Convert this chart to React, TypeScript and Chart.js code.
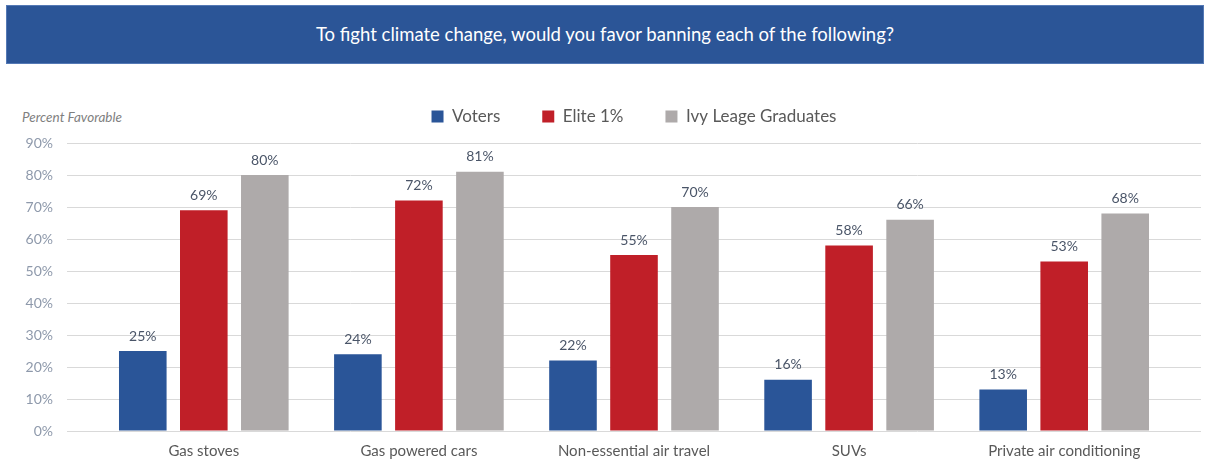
import React, { useEffect, useRef } from 'react';
import { Chart, registerables } from 'chart.js';

Chart.register(...registerables);

const title = 'To fight climate change, would you favor banning each of the following?';
const axisNote = 'Percent Favorable';
const categories = ['Gas stoves', 'Gas powered cars', 'Non-essential air travel', 'SUVs', 'Private air conditioning'];
const seriesNames = ['Voters', 'Elite 1%', 'Ivy Leage Graduates'];
const voters = [25, 24, 22, 16, 13];
const elite = [69, 72, 55, 58, 53];
const ivy = [80, 81, 70, 66, 68];
const yMin = 0;
const yMax = 90;
const yStep = 10;

const colors = ['#2A5598', '#C01F28', '#AEAAAA'];
const FONT = 'Lato, "Open Sans", sans-serif';

const legendSpacer = {
  id: 'legendSpacer',
  beforeInit(chart: any) {
    const legend = chart.legend;
    if (!legend) return;
    const orig = legend.fit;
    legend.fit = function fit() {
      orig.bind(legend)();
      this.height += 8;
    };
  },
  afterLayout(chart: any) {
    const legend = chart.legend;
    if (!legend) return;
    // centre the legend over the plot area instead of the whole canvas
    const shift = (chart.chartArea.left + chart.chartArea.right) / 2 - (legend.left + legend.right) / 2;
    legend.left += shift;
    legend.right += shift;
  },
};

const valueLabels = {
  id: 'valueLabels',
  afterDatasetsDraw(chart: any) {
    const ctx = chart.ctx;
    ctx.save();
    ctx.font = `14px ${FONT}`;
    ctx.fillStyle = '#4A5568';
    ctx.textAlign = 'center';
    ctx.textBaseline = 'bottom';
    chart.data.datasets.forEach((ds: any, di: number) => {
      const meta = chart.getDatasetMeta(di);
      meta.data.forEach((el: any, i: number) => {
        const v = ds.data[i].y;
        ctx.fillText(`${v}%`, el.x, el.y - 8);
      });
    });
    ctx.restore();
  },
};

export default function App() {
  const ref = useRef<HTMLCanvasElement | null>(null);

  useEffect(() => {
    document.body.style.margin = '0';
    if (!ref.current) return;
    const series = [voters, elite, ivy];
    const chart = new Chart(ref.current, {
      type: 'bar',
      data: {
        datasets: series.map((vals, si) => ({
          label: seriesNames[si],
          data: vals.map((v, i) => ({ x: i, y: v })),
          backgroundColor: colors[si],
          borderWidth: 0,
          categoryPercentage: 0.851,
          barPercentage: 0.78,
        })),
      },
      options: {
        responsive: false,
        animation: false,
        layout: { padding: { left: 0, right: 5, top: 0, bottom: 0 } },
        plugins: {
          legend: {
            position: 'top',
            align: 'center',
            labels: {
              boxWidth: 12,
              boxHeight: 12,
              padding: 42,
              color: '#595959',
              font: { family: FONT, size: 17 },
            },
          },
          tooltip: { enabled: false },
        },
        scales: {
          x: {
            type: 'linear',
            min: -0.636,
            max: 4.636,
            offset: false,
            grid: { display: false },
            border: { display: false },
            afterBuildTicks: (s: any) => {
              s.ticks = categories.map((_, i) => ({ value: i }));
            },
            afterFit: (s: any) => {
              s.height = 35;
            },
            ticks: {
              autoSkip: false,
              maxRotation: 0,
              padding: 3,
              color: '#595959',
              font: { family: FONT, size: 15 },
              callback: (v: any) => categories[v as number] ?? '',
            },
          },
          y: {
            min: yMin,
            max: yMax,
            grid: { color: '#D9D9D9', drawTicks: false },
            border: { display: false },
            afterFit: (s: any) => {
              s.width = 67;
            },
            ticks: {
              stepSize: yStep,
              padding: 14,
              color: '#8E99AB',
              font: { family: FONT, size: 14 },
              callback: (v: any) => `${v}%`,
            },
          },
        },
      },
      plugins: [legendSpacer, valueLabels],
    });
    return () => chart.destroy();
  }, []);

  return (
    <div style={{ position: 'relative', width: 1206, height: 466, background: '#fff', overflow: 'hidden' }}>
      <div
        style={{
          position: 'absolute',
          left: 6,
          top: 5,
          width: 1198,
          height: 59,
          background: '#2B5597',
          boxSizing: 'border-box',
          border: '1px solid #5479B5',
          color: '#fff',
          fontFamily: FONT,
          fontSize: 18.5,
          lineHeight: '57px',
          textAlign: 'center',
        }}
      >
        {title}
      </div>
      <div
        style={{
          position: 'absolute',
          left: 22,
          top: 108,
          fontFamily: FONT,
          fontStyle: 'italic',
          fontSize: 13.5,
          lineHeight: '18px',
          color: '#7F7F7F',
        }}
      >
        {axisNote}
      </div>
      <canvas ref={ref} width={1206} height={400} style={{ position: 'absolute', left: 0, top: 66 }} />
    </div>
  );
}
